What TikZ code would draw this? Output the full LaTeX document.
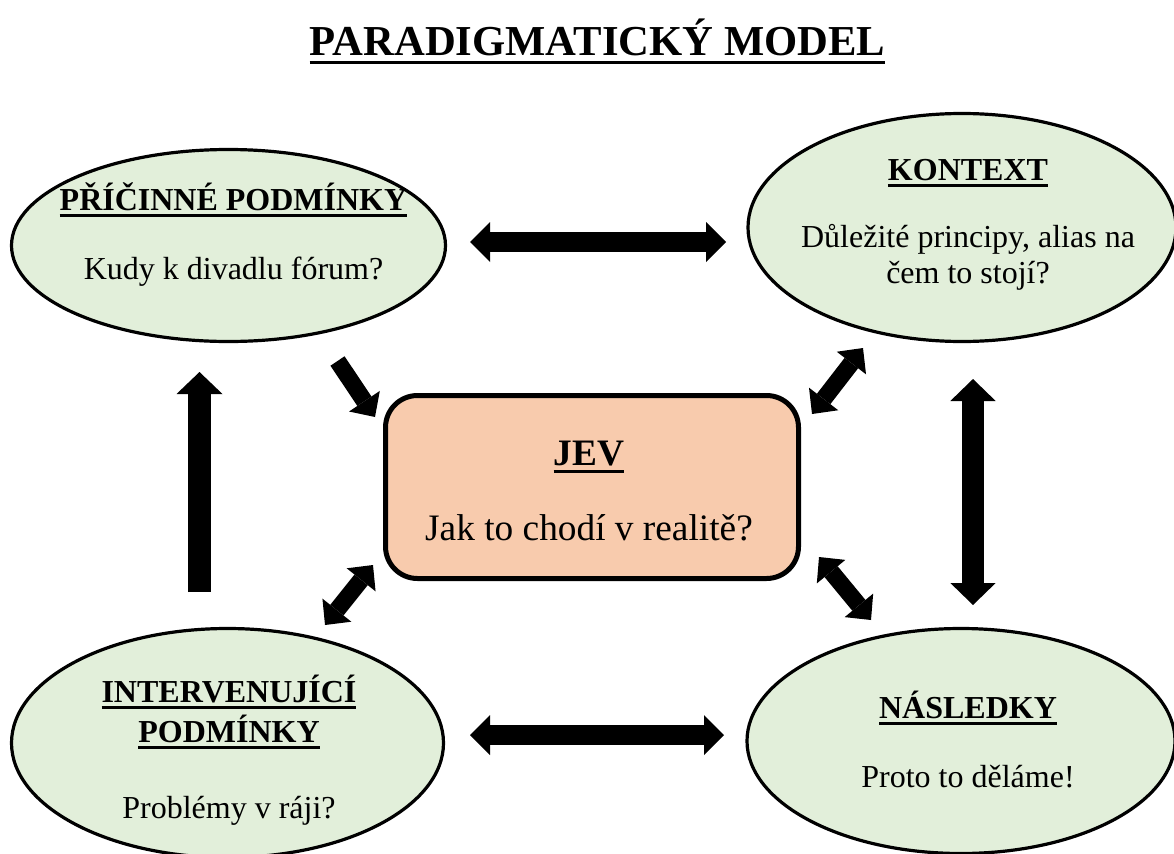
\documentclass[tikz,border=0pt]{standalone}
\usepackage{fontspec}
\setmainfont{Liberation Serif}
\usetikzlibrary{arrows.meta,shapes.geometric}
\definecolor{elfill}{HTML}{E2EFDA}
\definecolor{boxfill}{HTML}{F8CBAD}
\newcommand\ulx[1]{\leavevmode\setbox0\hbox{#1}\rlap{\rule[-0.22em]{\wd0}{0.085em}}\box0}
\begin{document}
\begin{tikzpicture}[x=0.75pt,y=-0.75pt,
  ell/.style={ellipse, draw=black, line width=2.4pt, fill=elfill, inner sep=0pt},
  lbl/.style={align=center, font=\fontsize{24}{27.5}\selectfont, inner sep=0pt, anchor=base},
  jevbox/.style={rectangle, rounded corners=24pt, draw=black, line width=3.75pt, fill=boxfill, inner sep=0pt},
  harr/.style={line width=15pt, arrows={Triangle[length=15pt,width=30pt,line width=0pt]-Triangle[length=15pt,width=30pt,line width=0pt]}},
  varr/.style={line width=16.5pt, arrows={Triangle[length=16.5pt,width=34pt,line width=0pt]-Triangle[length=16.5pt,width=34pt,line width=0pt]}},
  varrone/.style={line width=17pt, arrows={-Triangle[length=16.5pt,width=34.5pt,line width=0pt]}},
  darr/.style={line width=12.75pt, arrows={Triangle[length=14.25pt,width=27.75pt,line width=0pt]-Triangle[length=14.25pt,width=27.75pt,line width=0pt]}},
  darrone/.style={line width=12.75pt, arrows={-Triangle[length=14.25pt,width=27.75pt,line width=0pt]}}
]
\useasboundingbox (0,0) rectangle (1174,853);
\fill[white] (0,0) rectangle (1174,853);

% title
\node[anchor=base, inner sep=0pt, font=\fontsize{32}{36}\selectfont\bfseries] (title) at (597.5,55) {\ulx{PARADIGMATICKÝ MODEL}};

% shapes
\node[ell, minimum width=325.5pt, minimum height=144pt] (pc) at (228.5,245.5) {};
\node[ell, minimum width=321pt, minimum height=171pt] (kx) at (962,227.5) {};
\node[ell, minimum width=324pt, minimum height=171.75pt] (iv) at (227.5,743) {};
\node[ell, minimum width=321pt, minimum height=168.75pt] (ns) at (961,741) {};
\node[jevbox, minimum width=309.75pt, minimum height=137.25pt] (jev) at (592,487) {};

% texts (base anchor = baseline of the last line)
\node[lbl] (pctext) at (233.5,279) {\textbf{\ulx{PŘÍČINNÉ PODMÍNKY}}\\[24.25pt]Kudy k divadlu fórum?};
\node[lbl] (kxtext) at (968,283) {\textbf{\ulx{KONTEXT}}\\[22.75pt]Důležité principy, alias na\\[-0.5pt]čem to stojí?};
\node[lbl] (ivtext) at (229,818) {\textbf{\ulx{INTERVENUJÍCÍ}}\\[2.5pt]\textbf{\ulx{PODMÍNKY}}\\[29.5pt]Problémy v ráji?};
\node[lbl] (nstext) at (968,787) {\textbf{\ulx{NÁSLEDKY}}\\[24.25pt]Proto to děláme!};
\node[lbl, font=\fontsize{28}{32}\selectfont] (jevtext) at (589,540) {\textbf{\ulx{JEV}}\\[24.25pt]Jak to chodí v realitě?};

% arrow end points
\coordinate (a1) at (470,242);  \coordinate (a2) at (726,242);
\coordinate (b1) at (470,735);  \coordinate (b2) at (724,735);
\coordinate (c1) at (199.5,592); \coordinate (c2) at (199.5,372);
\coordinate (d1) at (973,379);  \coordinate (d2) at (973,605);
\coordinate (e1) at (337.5,361); \coordinate (e2) at (375,417);
\coordinate (f1) at (863,348);  \coordinate (f2) at (812,414);
\coordinate (g1) at (373,565);  \coordinate (g2) at (325,625);
\coordinate (h1) at (819,557);  \coordinate (h2) at (871,620);

\draw[harr] (a1) -- (a2);
\draw[harr] (b1) -- (b2);
\draw[varrone] (c1) -- (c2);
\draw[varr] (d1) -- (d2);
\draw[darrone] (e1) -- (e2);
\draw[darr] (f1) -- (f2);
\draw[darr] (g1) -- (g2);
\draw[darr] (h1) -- (h2);
\end{tikzpicture}
\end{document}
